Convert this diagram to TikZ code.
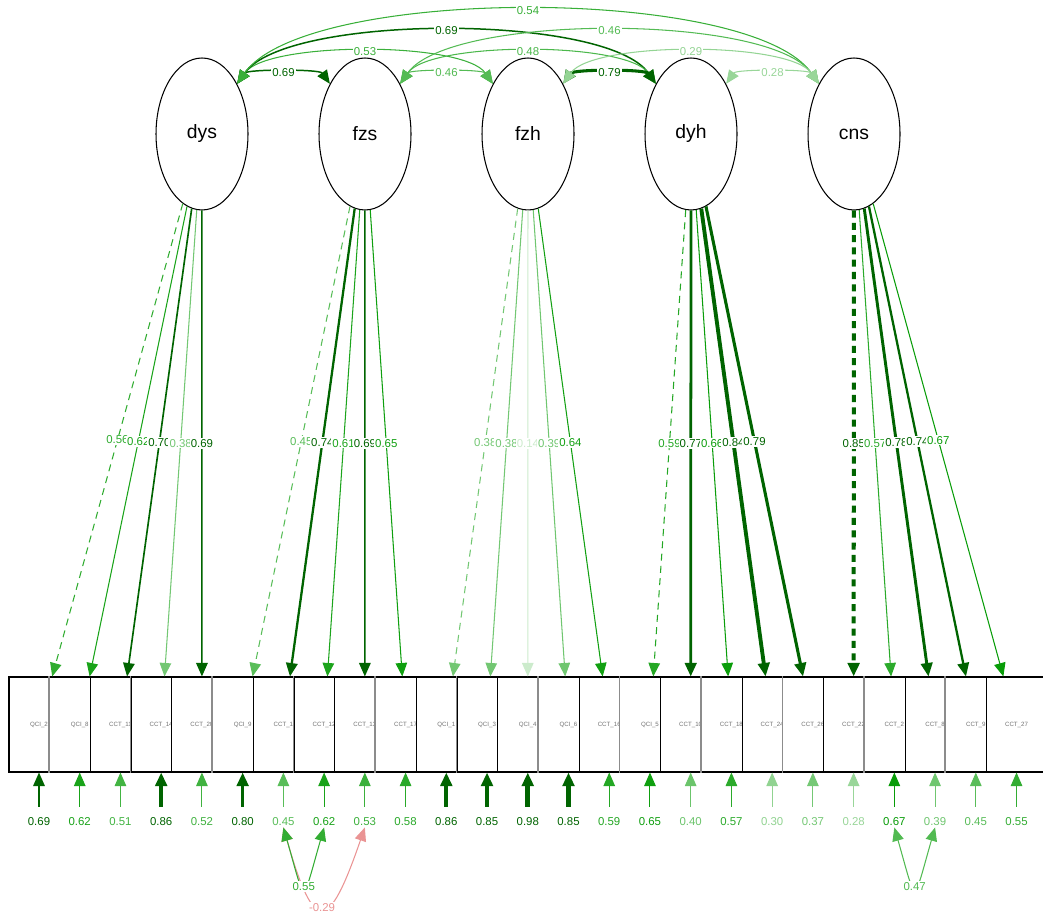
\documentclass[tikz,border=0pt]{standalone}
\usepackage{fontspec}
\setmainfont{Liberation Sans}
\usetikzlibrary{shapes.geometric, arrows.meta}
\tikzset{>={Triangle[length=0.27cm, width=0.23cm]}}
\definecolor{posweak}{RGB}{0,153,0}
\definecolor{posstrong}{RGB}{0,100,0}
\definecolor{negweak}{RGB}{204,0,0}
\colorlet{ecol}{black}
\tikzset{
  latent/.style={draw, ellipse, line width=0.6pt, minimum width=1.84cm, minimum height=3.04cm, inner sep=0pt, font=\fontsize{11}{13}\selectfont},
  manifest/.style={draw, fill=white, line width=0.6pt, minimum width=1.2cm, minimum height=1.9cm, inner sep=0pt, text=black!55, font=\fontsize{3.5}{4}\selectfont},
  elabel/.style={fill=white, inner sep=0.6pt, text=ecol, font=\fontsize{6.5}{7}\selectfont},
  fixedload/.style={dash pattern=on 4pt off 3pt}
}

% colour and width of an edge from its weight
\newcommand{\edgestyle}[1]{%
  \pgfmathsetmacro\eabs{abs(#1)}%
  \pgfmathtruncatemacro\estrong{\eabs>=0.685}%
  \pgfmathtruncatemacro\eneg{#1<0}%
  \pgfmathtruncatemacro\epct{min(100,100*\eabs/0.685)}%
  \ifnum\eneg=1 \colorlet{ecol}{negweak!\epct!white}%
  \else\ifnum\estrong=1 \colorlet{ecol}{posstrong}%
  \else \colorlet{ecol}{posweak!\epct!white}\fi\fi
  \ifnum\estrong=1 \pgfmathsetmacro\ewidth{min(0.85+(\eabs-0.69)*9,2.6)}%
  \else \def\ewidth{0.6}\fi}

\begin{document}
\begin{tikzpicture}[x=0.02cm, y=0.02cm]
\useasboundingbox (0,0) rectangle (1043,915);

% Latent variables
\foreach \lat [count=\i from 0] in {dys,fzs,fzh,dyh,cns}
  \node[latent] (\lat) at (202+163*\i, 781) {\lat};

% Indicators
\foreach \lab [count=\k from 0] in {QCI\_2,QCI\_8,CCT\_11,CCT\_14,CCT\_20,QCI\_9,CCT\_1,CCT\_12,CCT\_13,CCT\_17,QCI\_1,QCI\_3,QCI\_4,QCI\_6,CCT\_16,QCI\_5,CCT\_10,CCT\_18,CCT\_24,CCT\_26,CCT\_22,CCT\_2,CCT\_8,CCT\_9,CCT\_27}
  \node[manifest] (m\k) at (39+40.73*\k, 190.5) {\lab};
\foreach \k in {1,3,...,23}
  \draw[black!45, line width=0.9pt] (m\k.north west) -- (m\k.south west);

% Loadings
\foreach \lat/\k/\val/\dsh in {dys/0/0.56/fixedload, dys/1/0.62/solid, dys/2/0.70/solid, dys/3/0.38/solid, dys/4/0.69/solid,
    fzs/5/0.45/fixedload, fzs/6/0.74/solid, fzs/7/0.61/solid, fzs/8/0.69/solid, fzs/9/0.65/solid,
    fzh/10/0.38/fixedload, fzh/11/0.38/solid, fzh/12/0.14/solid, fzh/13/0.39/solid, fzh/14/0.64/solid,
    dyh/15/0.59/fixedload, dyh/16/0.77/solid, dyh/17/0.66/solid, dyh/18/0.84/solid, dyh/19/0.79/solid,
    cns/20/0.85/fixedload, cns/21/0.57/solid, cns/22/0.78/solid, cns/23/0.74/solid, cns/24/0.67/solid}
{
  \edgestyle{\val}
  \draw[->, draw=ecol, line width=\ewidth pt, \dsh] (\lat) -- node[elabel] {\val} (m\k);
}

% Residual variances
\foreach \val [count=\k from 0] in {0.69,0.62,0.51,0.86,0.52,0.80,0.45,0.62,0.53,0.58,0.86,0.85,0.98,0.85,0.59,0.65,0.40,0.57,0.30,0.37,0.28,0.67,0.39,0.45,0.55}
{
  \edgestyle{\val}
  \coordinate (e\k) at (39+40.73*\k, 108);
  \node[elabel] (r\k) at (39+40.73*\k, 93) {\val};
  \draw[->, draw=ecol, line width=\ewidth pt] (e\k) -- (m\k);
}

% Residual covariances
\edgestyle{-0.29}
\draw[<->, draw=ecol, line width=\ewidth pt] (r6.south) .. controls +(-74:112) and +(-109:112) .. node[elabel] {-0.29} (r8.south);
\edgestyle{0.55}
\draw[<->, draw=ecol, line width=\ewidth pt] (r6.south) .. controls +(-74:82) and +(-106:82) .. node[elabel] {0.55} (r7.south);
\edgestyle{0.47}
\draw[<->, draw=ecol, line width=\ewidth pt] (r21.south) .. controls +(-74:82) and +(-106:82) .. node[elabel] {0.47} (r22.south);

% Latent covariances
\foreach \lfrom/\lto/\val/\sp in {dys/fzs/0.69/1, dys/fzh/0.53/2, dys/dyh/0.69/3, dys/cns/0.54/4,
    fzs/fzh/0.46/1, fzs/dyh/0.48/2, fzs/cns/0.46/3, fzh/dyh/0.79/1, fzh/cns/0.29/2, dyh/cns/0.28/1}
{
  \edgestyle{\val}
  \pgfmathsetmacro\cd{34*\sp-16}
  \draw[<->, draw=ecol, line width=\ewidth pt] (\lfrom.55) .. controls +(55:\cd) and +(125:\cd) .. node[elabel] {\val} (\lto.125);
}

\end{tikzpicture}
\end{document}
